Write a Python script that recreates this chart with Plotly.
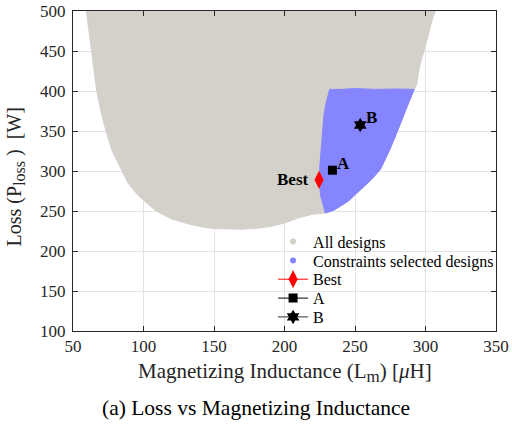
import plotly.graph_objects as go

# ---- data ----
# outline of the cloud of all designs (Lm [uH], Ploss [W])
all_x = [59.5, 61.2, 63.2, 65, 66.8, 69.8, 73.4, 77.8, 84.5, 89, 95, 101, 109,
         120, 130.5, 140, 150, 160, 170, 180, 190, 200, 210, 220, 229,
         235, 245, 255, 262, 268, 274.5, 279, 284, 288, 292,
         293.6, 295.7, 299, 302, 304.7, 307]
all_y = [500, 475, 450, 425, 400, 375, 350, 325, 300, 285, 272, 262, 250,
         240, 234.6, 230.5, 228, 227.3, 227.3, 228.3, 230.5, 235, 241.5, 246, 247.5,
         251, 262, 278, 290, 302, 326, 345, 368, 385, 402,
         407, 430, 450, 470, 489, 500]
# outline of the constraints-selected designs
sel_x = [229, 235, 245, 255, 262, 268, 274.5, 279, 284, 288, 292, 280, 265, 250,
         240, 232, 231, 229.5, 228, 227, 226, 225, 225, 225.5, 227, 228, 229]
sel_y = [247.5, 251, 262, 278, 290, 302, 326, 345, 368, 385, 402, 402.5, 402, 403,
         402, 402, 395, 385, 370, 350, 326, 305, 285, 270, 260, 252, 247.5]
best_pt = (224.5, 289)
a_pt = (234, 301)
b_pt = (253.7, 357.5)

x_ticks = [50, 100, 150, 200, 250, 300, 350]
y_ticks = [100, 150, 200, 250, 300, 350, 400, 450, 500]

GRAY = "#d4d0ca"
BLUE = "#8585ff"
FONT = "Liberation Serif, Times New Roman, serif"
AX = "#262626"
NB = "\u00a0"

fig = go.Figure()
fig.add_trace(go.Scatter(x=all_x, y=all_y, mode="lines", fill="toself",
                         fillcolor=GRAY, line=dict(color=GRAY, width=1),
                         showlegend=False, hoverinfo="skip"))
fig.add_trace(go.Scatter(x=sel_x, y=sel_y, mode="lines", fill="toself",
                         fillcolor=BLUE, line=dict(color=BLUE, width=1),
                         showlegend=False, hoverinfo="skip"))
fig.add_trace(go.Scatter(x=[None], y=[None], mode="markers", name="All designs",
                         legend="legend",
                         marker=dict(color=GRAY, size=6, symbol="circle")))
fig.add_trace(go.Scatter(x=[None], y=[None], mode="markers",
                         name="Constraints selected designs", legend="legend2",
                         marker=dict(color=BLUE, size=6, symbol="circle")))
fig.add_trace(go.Scatter(x=[best_pt[0]], y=[best_pt[1]], mode="lines+markers", name="Best",
                         legend="legend3",
                         line=dict(color="red", width=1),
                         marker=dict(color="red", size=13, symbol="diamond-tall")))
fig.add_trace(go.Scatter(x=[a_pt[0]], y=[a_pt[1]], mode="lines+markers", name="A",
                         legend="legend4",
                         line=dict(color="black", width=1),
                         marker=dict(color="black", size=9, symbol="square")))
fig.add_trace(go.Scatter(x=[b_pt[0]], y=[b_pt[1]], mode="lines+markers", name="B",
                         legend="legend5",
                         line=dict(color="#333333", width=1),
                         marker=dict(color="black", size=11, symbol="hexagram")))

lab_font = dict(family=FONT, size=17, color="black")
fig.add_annotation(x=best_pt[0], y=best_pt[1], text="<b>Best</b>", showarrow=False,
                   xanchor="right", yanchor="middle", xshift=-8, font=lab_font)
fig.add_annotation(x=a_pt[0], y=a_pt[1], text="<b>A</b>", showarrow=False,
                   xanchor="left", yanchor="middle", xshift=3, yshift=7, font=lab_font)
fig.add_annotation(x=b_pt[0], y=b_pt[1], text="<b>B</b>", showarrow=False,
                   xanchor="left", yanchor="middle", xshift=4, yshift=8, font=lab_font)

# axis titles and caption
fig.add_annotation(xref="paper", yref="paper", x=0.5, y=-0.131, yanchor="middle",
                   text=("Magnetizing Inductance (L<sub><span style='font-size:17px'>m</span></sub>)"
                         + NB + "[<i>μ</i>H]"),
                   showarrow=False, font=dict(family=FONT, size=21, color=AX))
fig.add_annotation(xref="paper", yref="paper", x=-0.137, y=0.48, xanchor="center",
                   yanchor="middle", textangle=-90,
                   text=("Loss" + NB + "(P<sub><span style='font-size:16px'>loss</span></sub>"
                         + NB + ")" + NB + NB + "[W]"),
                   showarrow=False, font=dict(family=FONT, size=20, color=AX))
fig.add_annotation(xref="paper", yref="paper", x=0.433, y=-0.2406, yanchor="middle",
                   text="(a) Loss vs Magnetizing Inductance",
                   showarrow=False, font=dict(family=FONT, size=21.5, color="black"))

axis_common = dict(showline=True, linecolor=AX, linewidth=1, mirror="ticks",
                   ticks="inside", ticklen=5, tickcolor=AX, showgrid=True,
                   gridcolor="#e3e3e3", gridwidth=1, zeroline=False,
                   tickfont=dict(family=FONT, size=17, color=AX))
fig.update_xaxes(range=[50, 350], tickvals=x_ticks, **axis_common)
fig.update_yaxes(range=[100, 500], tickvals=y_ticks, ticklabelstandoff=3, **axis_common)

leg_common = dict(x=0.473, xanchor="left", yanchor="middle",
                  bgcolor="rgba(0,0,0,0)", borderwidth=0,
                  font=dict(family=FONT, size=16, color="black"), itemwidth=30)
leg_rows = [241.7, 260.7, 279.3, 298.2, 317.0]   # pixel rows of the legend entries
layout_leg = {}
for i, py in enumerate(leg_rows):
    key = "legend" if i == 0 else f"legend{i + 1}"
    layout_leg[key] = dict(y=(331 - py) / 320, **leg_common)

fig.update_layout(
    width=512, height=426,
    margin=dict(l=73, r=16, t=11, b=95, autoexpand=False),
    paper_bgcolor="white", plot_bgcolor="white",
    showlegend=True,
    **layout_leg,
)

fig.write_html("out.html", config={"displayModeBar": False},
               post_script="document.body.style.margin='0px';"
                           "document.body.style.padding='0px';")
